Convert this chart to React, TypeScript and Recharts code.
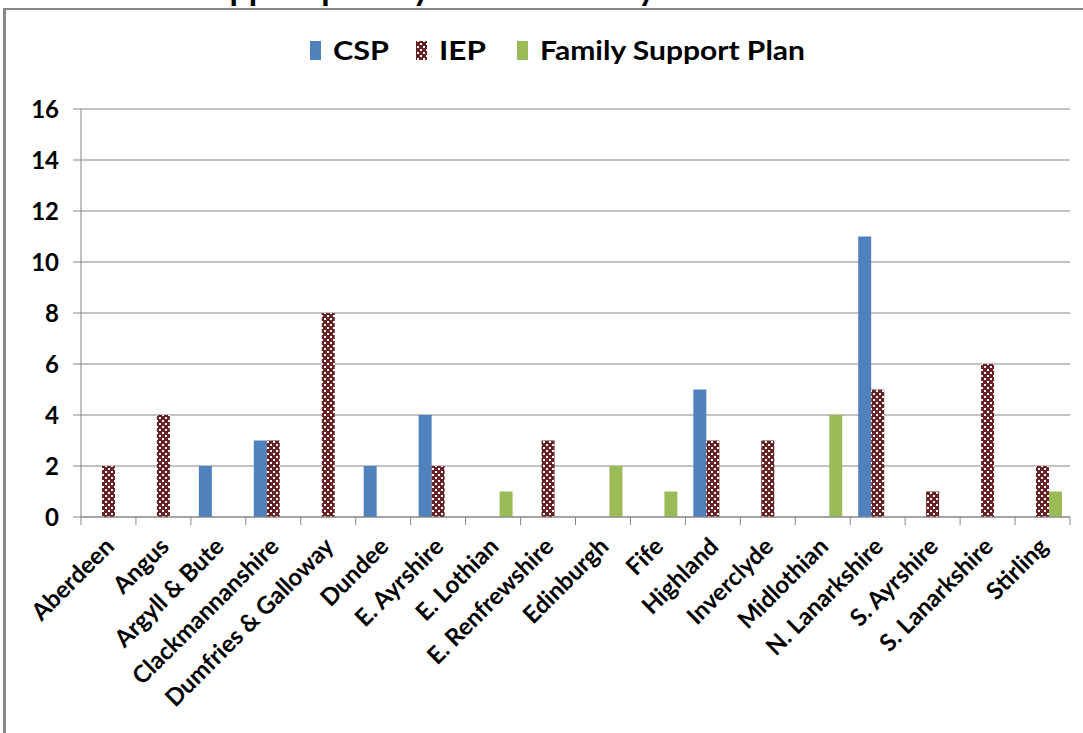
import { BarChart, Bar, XAxis, YAxis, CartesianGrid } from "recharts";

const AUTHORITIES = [
  "Aberdeen", "Angus", "Argyll & Bute", "Clackmannanshire", "Dumfries & Galloway",
  "Dundee", "E. Ayrshire", "E. Lothian", "E. Renfrewshire", "Edinburgh", "Fife",
  "Highland", "Inverclyde", "Midlothian", "N. Lanarkshire", "S. Ayrshire",
  "S. Lanarkshire", "Stirling",
];
const CSP = [0, 0, 2, 3, 0, 2, 4, 0, 0, 0, 0, 5, 0, 0, 11, 0, 0, 0];
const IEP = [2, 4, 0, 3, 8, 0, 2, 0, 3, 0, 0, 3, 3, 0, 5, 1, 6, 2];
const FSP = [0, 0, 0, 0, 0, 0, 0, 1, 0, 2, 1, 0, 0, 4, 0, 0, 0, 1];
const Y_TICKS = [0, 2, 4, 6, 8, 10, 12, 14, 16];

const data = AUTHORITIES.map((name, i) => ({ name, csp: CSP[i], iep: IEP[i], fsp: FSP[i] }));

const W = 1083;
const H = 733;
const LEFT = 81;
const RIGHT = 13;
const STEP = (W - LEFT - RIGHT) / AUTHORITIES.length;
const GRID = "#868686";
const FONT = "Lato, 'Open Sans', sans-serif";

const Pattern = ({ id }: { id: string }) => (
  <pattern id={id} width="6" height="6" patternUnits="userSpaceOnUse">
    <rect width="6" height="6" fill="#6a2324" />
    <rect x="0" y="0" width="2" height="2" fill="#fff" />
    <rect x="3" y="3" width="2" height="2" fill="#fff" />
  </pattern>
);

function XTick({ x, y, payload, index }: any) {
  return (
    <g>
      <line x1={x - STEP / 2} x2={x - STEP / 2} y1={y} y2={y + 8} stroke={GRID} />
      {index === AUTHORITIES.length - 1 && (
        <line x1={x + STEP / 2} x2={x + STEP / 2} y1={y} y2={y + 8} stroke={GRID} />
      )}
      <text
        transform={`translate(${x + 7},${y + 31}) rotate(-45)`}
        textAnchor="end"
        fontFamily={FONT}
        fontWeight="bold"
        fontSize={24}
        fill="#000"
      >
        {payload.value}
      </text>
    </g>
  );
}

function LegendBar() {
  const items = [
    { label: "CSP", fill: "#4f81bd", x: 310, w: 56 },
    { label: "IEP", fill: "url(#iepLegend)", x: 416, w: 47 },
    { label: "Family Support Plan", fill: "#9bbb59", x: 517, w: 265 },
  ];
  return (
    <svg width={W} height={40} style={{ position: "absolute", left: 0, top: 31 }}>
      <defs>
        <Pattern id="iepLegend" />
      </defs>
      {items.map((it) => (
        <g key={it.label}>
          <rect x={it.x} y={10} width={11} height={19} fill={it.fill} />
          <text
            x={it.x + 23}
            y={29}
            fontFamily={FONT}
            fontWeight="bold"
            fontSize={27}
            fill="#000"
            textLength={it.w}
            lengthAdjust="spacingAndGlyphs"
          >
            {it.label}
          </text>
        </g>
      ))}
    </svg>
  );
}

export default function App() {
  return (
    <div style={{ position: "absolute", left: 0, top: 0, width: W, height: H, overflow: "hidden", background: "#fff" }}>
      <div
        style={{
          position: "absolute", left: 192, top: -30, fontFamily: FONT, fontWeight: "bold",
          fontSize: 34, lineHeight: "34px", whiteSpace: "nowrap",
        }}
      >
        Support plan by local authority
      </div>
      <div
        style={{
          position: "absolute", left: 3, top: 8, width: W + 20, height: H + 20,
          borderTop: `2px solid ${GRID}`, borderLeft: `3px solid ${GRID}`,
        }}
      />
      <LegendBar />
      <div style={{ position: "absolute", left: 0, top: 0 }}>
        <BarChart
          width={W}
          height={H}
          data={data}
          margin={{ top: 109, right: RIGHT, bottom: 0, left: 0 }}
          barCategoryGap="14.5%"
          barGap={0}
        >
          <defs>
            <Pattern id="iepPat" />
          </defs>
          <CartesianGrid vertical={false} stroke={GRID} />
          <XAxis
            dataKey="name"
            interval={0}
            height={216}
            tickSize={0}
            tickMargin={0}
            tick={<XTick />}
            axisLine={{ stroke: GRID }}
          />
          <YAxis
            width={LEFT}
            domain={[0, 16]}
            ticks={Y_TICKS}
            tickSize={8}
            tickMargin={14}
            tickLine={{ stroke: GRID }}
            axisLine={{ stroke: GRID }}
            tick={{ fill: "#000", fontFamily: FONT, fontWeight: "bold", fontSize: 24 }}
          />
          <Bar dataKey="csp" name="CSP" fill="#4f81bd" isAnimationActive={false} />
          <Bar dataKey="iep" name="IEP" fill="url(#iepPat)" isAnimationActive={false} />
          <Bar dataKey="fsp" name="Family Support Plan" fill="#9bbb59" isAnimationActive={false} />
        </BarChart>
      </div>
    </div>
  );
}
